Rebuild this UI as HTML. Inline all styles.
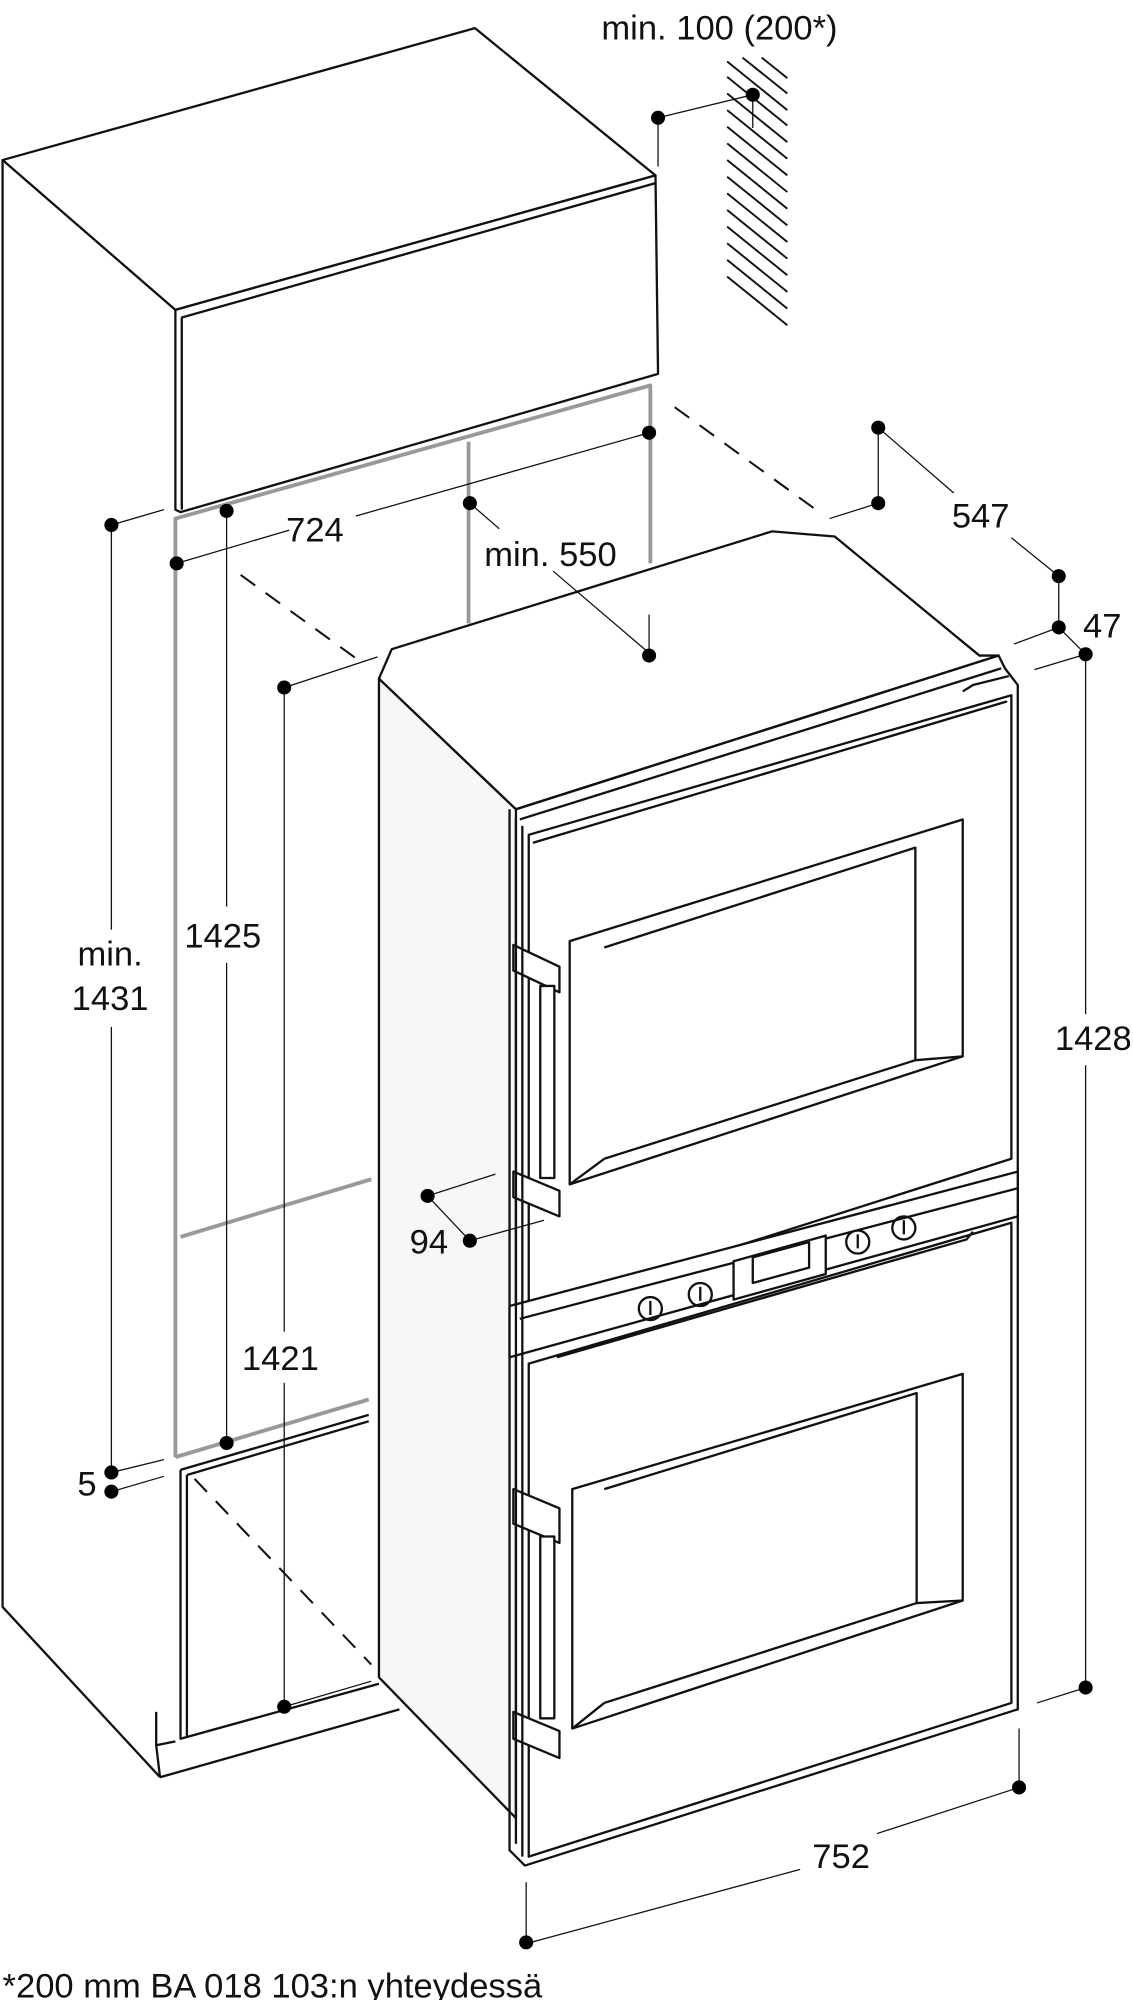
<!DOCTYPE html>
<html><head><meta charset="utf-8"><style>
html,body{margin:0;padding:0;background:#fff}
svg{display:block}
text{font-family:"Liberation Sans",sans-serif;font-size:27px;fill:#111}
</style></head><body>
<svg width="1133" height="2000" viewBox="0 0 885 1562" preserveAspectRatio="none" xmlns="http://www.w3.org/2000/svg">
<g fill="none" stroke="#111" stroke-width="1.8" stroke-linejoin="round">
<polygon points="2,125 371,22 512,137 137,242" fill="#fff"/>
<polyline points="2,125 2,1255 125,1388"/>
<polygon points="137,242 512,137 514,292 141,400 137,398" fill="#fff"/>
<polyline points="142,398 142,248 512,143"/>
<g stroke-width="1.5">
<line x1="568" y1="48" x2="615" y2="86"/><line x1="568" y1="60" x2="615" y2="98"/>
<line x1="568" y1="73" x2="615" y2="111"/><line x1="568" y1="86" x2="615" y2="124"/>
<line x1="568" y1="99" x2="615" y2="137"/><line x1="568" y1="112" x2="615" y2="150"/>
<line x1="568" y1="125" x2="615" y2="163"/><line x1="568" y1="138" x2="615" y2="176"/>
<line x1="568" y1="151" x2="615" y2="189"/><line x1="568" y1="164" x2="615" y2="202"/>
<line x1="568" y1="177" x2="615" y2="215"/><line x1="568" y1="190" x2="615" y2="228"/>
<line x1="568" y1="203" x2="615" y2="241"/><line x1="568" y1="216" x2="615" y2="254"/>
<line x1="580" y1="45" x2="615" y2="73"/><line x1="595" y1="45" x2="615" y2="61"/>
</g>
<g stroke="#999" stroke-width="3">
<polyline points="137,1138 137,405 508,301 508,440"/>
<line x1="366" y1="345" x2="366" y2="487"/>
<line x1="141" y1="966" x2="290" y2="921"/>
<line x1="137" y1="1138" x2="288" y2="1093"/>
</g>
<polyline points="141,1148 288,1105"/>
<polyline points="141,1148 141,1358 296,1315"/>
<polyline points="146,1152 146,1356"/>
<polyline points="146,1152 288,1110"/>
<polyline points="122,1337 122,1363 137,1360"/>
<line x1="125" y1="1388" x2="312" y2="1335"/>
<line x1="122" y1="1363" x2="125" y2="1388"/>
<g stroke-dasharray="14,10" stroke-width="1.6">
<line x1="188" y1="449" x2="282" y2="517"/>
<line x1="527" y1="318" x2="640" y2="400"/>
<line x1="152" y1="1155" x2="290" y2="1300"/>
</g>
<polygon points="296,530 403,632 403,1420 296,1310" fill="#f7f7f7"/>
<polygon points="296,530 306,507 603,415 652,419 765,512 780,512 403,632" fill="#fff"/>
<polyline points="403,632 780,512 785,522 795,535 795,1335 410,1457 398,1445 398,632"/>
<polyline points="406,640 782,522"/>
<polyline points="752,540 760,535 788,528"/>
<polygon points="413,652 790,543 790,905 413,1025"/>
<polygon points="417,658 786,548"/>
<polygon points="445,735 752,640 752,825 445,925"/>
<polyline points="472,740 715,662 715,828 472,905"/>
<line x1="445" y1="925" x2="472" y2="905"/><line x1="752" y1="825" x2="715" y2="828"/>
<polygon points="398,1020 795,915 795,950 398,1060" fill="#fff"/>
<polyline points="406,1030 795,928"/>
<polygon points="573,985 645,965 645,995 573,1015" fill="#fff"/>
<polygon points="588,982 632,970 632,990 588,1002"/>
<circle cx="508" cy="1022" r="9"/><circle cx="547" cy="1011" r="9"/>
<circle cx="670" cy="970" r="9"/><circle cx="706" cy="959" r="9"/>
<line x1="508" y1="1016" x2="508" y2="1027"/><line x1="547" y1="1005" x2="547" y2="1016"/>
<line x1="670" y1="964" x2="670" y2="975"/><line x1="706" y1="953" x2="706" y2="964"/>
<polygon points="413,1065 790,955 790,1330 413,1450"/>
<polyline points="435,1060 755,968 760,962"/>
<polygon points="447,1163 752,1073 752,1250 447,1350"/>
<polyline points="472,1163 716,1088 716,1252 472,1330"/>
<line x1="447" y1="1350" x2="472" y2="1330"/><line x1="752" y1="1250" x2="716" y2="1252"/>
<g fill="#fff">
<polygon points="401,738 437,755 437,775 401,758"/>
<polygon points="401,915 437,930 437,950 401,935"/>
<rect x="422" y="770" width="11" height="150"/>
<polygon points="401,1163 437,1178 437,1205 401,1190"/>
<polygon points="401,1337 437,1352 437,1373 401,1358"/>
<rect x="422" y="1200" width="11" height="142"/>
</g>
<line x1="403" y1="640" x2="403" y2="1440"/>
<line x1="408" y1="645" x2="408" y2="1450"/>
</g>
<g stroke="#111" stroke-width="1" fill="none">
<polyline points="514,130 514,92 588,74 588,100"/>
<polyline points="138,440 226,414"/><polyline points="278,403 507,338"/>
<polyline points="367,393 390,413"/><polyline points="432,446 507,510"/>
<line x1="507" y1="480" x2="507" y2="512"/>
<polyline points="648,405 686,393 686,334 745,385"/><line x1="790" y1="420" x2="827" y2="450"/>
<polyline points="827,450 827,490 848,511"/><line x1="792" y1="503" x2="827" y2="490"/>
<line x1="808" y1="523" x2="848" y2="511"/>
<line x1="848" y1="511" x2="848" y2="792"/><line x1="848" y1="832" x2="848" y2="1318"/>
<line x1="810" y1="1330" x2="848" y2="1318"/>
<polyline points="796,1350 796,1396 685,1432"/>
<polyline points="625,1460 411,1518 411,1470"/>
<polyline points="295,513 222,537 222,1040"/><line x1="222" y1="1080" x2="222" y2="1333"/>
<line x1="222" y1="1333" x2="290" y2="1313"/>
<line x1="177" y1="399" x2="177" y2="708"/><line x1="177" y1="752" x2="177" y2="1127"/>
<polyline points="128,398 87,410 87,726"/><line x1="87" y1="802" x2="87" y2="1150"/>
<line x1="87" y1="1150" x2="128" y2="1140"/><line x1="87" y1="1165" x2="128" y2="1153"/>
<polyline points="387,917 334,934 367,969 425,953"/>
</g>
<g fill="#000">
<circle cx="514" cy="92" r="5.5"/><circle cx="588" cy="74" r="5.5"/>
<circle cx="138" cy="440" r="5.5"/><circle cx="507" cy="338" r="5.5"/>
<circle cx="367" cy="393" r="5.5"/><circle cx="507" cy="512" r="5.5"/>
<circle cx="686" cy="334" r="5.5"/><circle cx="686" cy="393" r="5.5"/>
<circle cx="827" cy="450" r="5.5"/><circle cx="827" cy="490" r="5.5"/>
<circle cx="848" cy="511" r="5.5"/><circle cx="848" cy="1318" r="5.5"/>
<circle cx="796" cy="1396" r="5.5"/><circle cx="411" cy="1517" r="5.5"/>
<circle cx="222" cy="537" r="5.5"/><circle cx="222" cy="1333" r="5.5"/>
<circle cx="177" cy="399" r="5.5"/><circle cx="177" cy="1127" r="5.5"/>
<circle cx="87" cy="410" r="5.5"/><circle cx="87" cy="1150" r="5.5"/><circle cx="87" cy="1165" r="5.5"/>
<circle cx="334" cy="934" r="5.5"/><circle cx="367" cy="969" r="5.5"/>
</g>
<text x="562" y="31" text-anchor="middle">min. 100 (200*)</text>
<text x="246" y="423" text-anchor="middle">724</text>
<text x="430" y="442" text-anchor="middle">min. 550</text>
<text x="766" y="412" text-anchor="middle">547</text>
<text x="861" y="498" text-anchor="middle">47</text>
<text x="854" y="820" text-anchor="middle">1428</text>
<text x="657" y="1459" text-anchor="middle">752</text>
<text x="219" y="1070" text-anchor="middle">1421</text>
<text x="174" y="740" text-anchor="middle">1425</text>
<text x="86" y="754" text-anchor="middle">min.</text>
<text x="86" y="789" text-anchor="middle">1431</text>
<text x="68" y="1168" text-anchor="middle">5</text>
<text x="335" y="979" text-anchor="middle">94</text>
<text x="2" y="1560">*200 mm BA 018 103:n yhteydessä</text>
</svg>
</body></html>
